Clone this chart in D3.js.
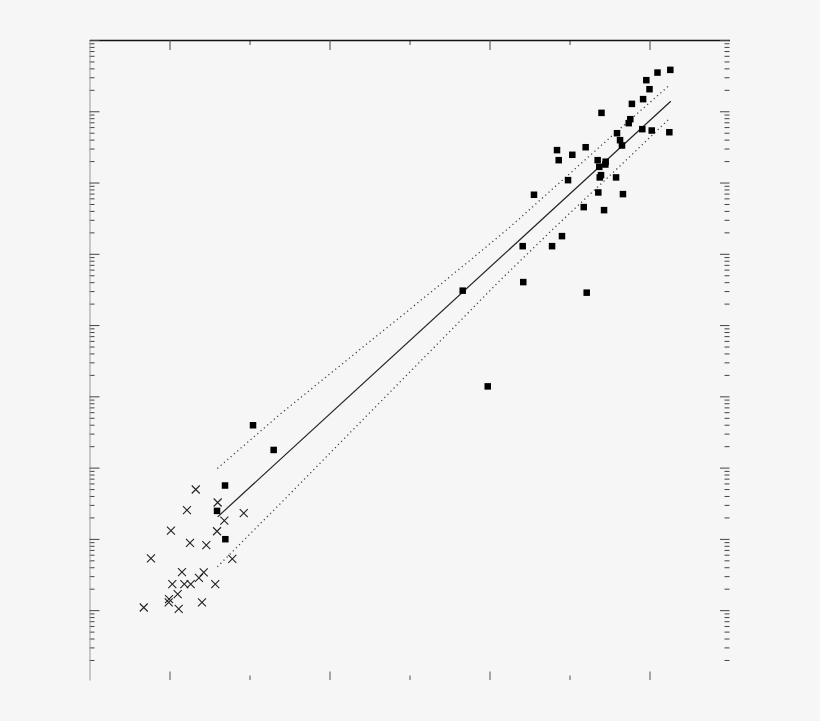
<!DOCTYPE html>
<html><head><meta charset="utf-8">
<script src="https://cdn.jsdelivr.net/npm/d3@7"></script>
<style>html,body{margin:0;padding:0;background:#f6f6f6;} svg{display:block}</style>
</head><body>
<svg id="chart" width="820" height="721"></svg>
<script>
// ---- data ----
const squareX = [3.13,3.05,2.98,3.00,2.96,2.89,2.70,2.88,2.87,2.955,3.014,3.124,2.797,2.816,2.828,2.422,2.601,2.5175,2.4325,2.676,2.726,2.724,2.686,2.791,2.697,2.689,2.491,2.278,2.834,2.680,2.589,2.716,2.2075,2.391,2.453,2.211,2.6075,1.8325,1.989,0.522,0.651,0.347,0.297,0.349];
const squareY = [3.81e8,3.49e8,2.73e8,2.04e8,1.48e8,1.27e8,9.5e7,7.74e7,6.81e7,5.61e7,5.37e7,5.08e7,4.92e7,3.93e7,3.31e7,2.85e7,3.13e7,2.45e7,2.06e7,2.06e7,1.96e7,1.79e7,1.66e7,1.18e7,1.27e7,1.18e7,1.08e7,6.74e6,6.88e6,7.26e6,4.52e6,4.10e6,1.28e6,1.28e6,1.77e6,4.01e5,2.85e5,3.04e5,1.38e4,3930,1770,561,247,99];
const crossX = [-0.161,-0.116,-0.003,-0.005,0.009,0.0175,0.051,0.0575,0.078,0.0925,0.109,0.128,0.1325,0.164,0.184,0.203,0.214,0.23,0.286,0.297,0.301,0.3425,0.3925,0.464];
const crossY = [10.9,53.2,14.3,12.9,131,23.2,16.8,10.4,34.2,23.2,253,88,23.2,493,28.4,12.9,33.9,81.7,23.2,128,324,181,52.5,230];
const fitX = [0.301, 3.133];
const fitY = [204, 1.38e8];
const upperX = [0.299,0.691,1.128,1.566,1.878,2.128,2.441,2.816,3.117];
const upperY = [972,5610,3.50e4,2.18e5,8.09e5,2.37e6,1.01e7,5.70e7,2.24e8];
const lowerX = [0.299,0.691,1.128,1.566,2.066,2.399,2.816,3.117];
const lowerY = [40.6,310,3080,3.07e4,4.24e5,2.25e6,1.71e7,7.59e7];
const xMajorTicks = [0,1,2,3];
const xMinorTicks = [0.5,1.5,2.5];
const yDecadeExponents = [0,1,2,3,4,5,6,7,8,9];
const yMantissas = [1,2,3,4,5,6,7,8,9];

(function () {
// ---- layout ----
const W = 820, H = 721;
const mLeft = 89.5, mRight = 729.5, mTop = 40, mBottom = 680;
const svg = d3.select('#chart');
svg.append('rect').attr('width', W).attr('height', H).attr('fill', '#f6f6f6');

const x = d3.scaleLinear().domain([-0.5, 3.5]).range([mLeft, mRight]);
const y = d3.scaleLog().domain([Math.pow(10, 0.02), 1e9]).range([mBottom, mTop]);

const yMaj = [], yMin = [];
yDecadeExponents.forEach(k => yMantissas.forEach(m => {
  const v = m * Math.pow(10, k);
  if (v >= y.domain()[0] && v <= y.domain()[1]) (m === 1 ? yMaj : yMin).push(v);
}));

function styleAxis(g, color, domainColor, domainWidth, showDomain) {
  g.selectAll('.tick line').attr('stroke', color).attr('stroke-width', 1);
  g.selectAll('.tick text').remove();
  if (showDomain) g.select('.domain').attr('stroke', domainColor).attr('stroke-width', domainWidth);
  else g.select('.domain').remove();
}

// top axis
svg.append('g').attr('transform', `translate(0,${mTop})`)
  .call(d3.axisTop(x).tickValues(xMinorTicks).tickSize(-5).tickSizeOuter(0).tickFormat(''))
  .call(g => styleAxis(g, '#444', null, 0, false));
svg.append('g').attr('transform', `translate(0,${mTop})`)
  .call(d3.axisTop(x).tickValues(xMajorTicks).tickSize(-10).tickSizeOuter(0).tickFormat(''))
  .call(g => styleAxis(g, '#444', '#111', 1.5, true));
// bottom axis
svg.append('g').attr('transform', `translate(0,${mBottom})`)
  .call(d3.axisBottom(x).tickValues(xMinorTicks).tickSize(-4.5).tickSizeOuter(0).tickFormat(''))
  .call(g => styleAxis(g, '#555', null, 0, false));
svg.append('g').attr('transform', `translate(0,${mBottom})`)
  .call(d3.axisBottom(x).tickValues(xMajorTicks).tickSize(-8.5).tickSizeOuter(0).tickFormat(''))
  .call(g => styleAxis(g, '#555', null, 0, false));
// left axis
svg.append('g').attr('transform', `translate(${mLeft},0)`)
  .call(d3.axisLeft(y).tickValues(yMin).tickSize(-5).tickSizeOuter(0).tickFormat(''))
  .call(g => styleAxis(g, '#444', null, 0, false));
svg.append('g').attr('transform', `translate(${mLeft},0)`)
  .call(d3.axisLeft(y).tickValues(yMaj).tickSize(-10).tickSizeOuter(0).tickFormat(''))
  .call(g => styleAxis(g, '#444', '#999', 1, true));
// right axis
svg.append('g').attr('transform', `translate(${mRight},0)`)
  .call(d3.axisRight(y).tickValues(yMin).tickSize(-5).tickSizeOuter(0).tickFormat(''))
  .call(g => styleAxis(g, '#444', null, 0, false));
svg.append('g').attr('transform', `translate(${mRight},0)`)
  .call(d3.axisRight(y).tickValues(yMaj).tickSize(-9.5).tickSizeOuter(0).tickFormat(''))
  .call(g => styleAxis(g, '#444', null, 0, false));

// lines
const line = d3.line().x(d => x(d[0])).y(d => y(d[1]));
svg.append('path').datum(d3.zip(upperX, upperY)).attr('d', line)
  .attr('fill', 'none').attr('stroke', '#444').attr('stroke-width', 1.3).attr('stroke-dasharray', '1.2,3.2');
svg.append('path').datum(d3.zip(lowerX, lowerY)).attr('d', line)
  .attr('fill', 'none').attr('stroke', '#444').attr('stroke-width', 1.3).attr('stroke-dasharray', '1.2,3.2');
svg.append('path').datum(d3.zip(fitX, fitY)).attr('d', line)
  .attr('fill', 'none').attr('stroke', '#222').attr('stroke-width', 1.2);

// crosses
const cs = 4;
svg.append('g').selectAll('path').data(d3.zip(crossX, crossY)).join('path')
  .attr('d', d => {
    const px = x(d[0]), py = y(d[1]);
    return `M${px-cs},${py-cs}L${px+cs},${py+cs}M${px-cs},${py+cs}L${px+cs},${py-cs}`;
  })
  .attr('stroke', '#222').attr('stroke-width', 1.1).attr('fill', 'none');

// squares
const ss = 6.5;
svg.append('g').selectAll('rect').data(d3.zip(squareX, squareY)).join('rect')
  .attr('x', d => x(d[0]) - ss / 2).attr('y', d => y(d[1]) - ss / 2)
  .attr('width', ss).attr('height', ss).attr('fill', '#000');
})();
</script>
</body></html>
